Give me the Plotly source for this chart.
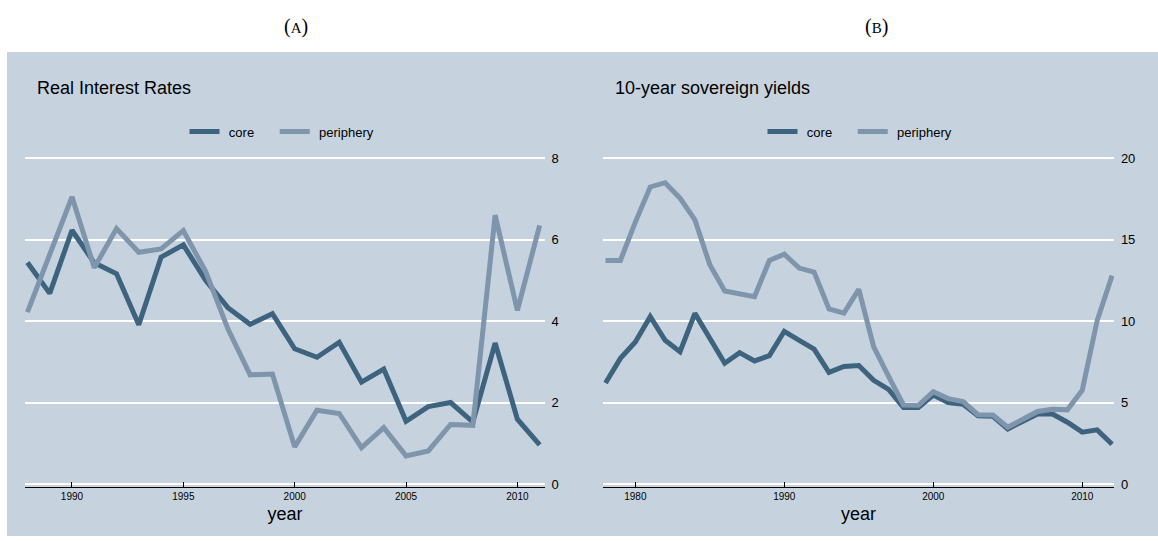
import plotly.graph_objects as go

# Panel A: real interest rates, 1988-2011
years_a = list(range(1988, 2012))
core_a = [5.44, 4.68, 6.23, 5.43, 5.16, 3.91, 5.57, 5.87, 5.00, 4.33, 3.92, 4.18,
          3.32, 3.11, 3.48, 2.50, 2.82, 1.54, 1.90, 2.00, 1.52, 3.46, 1.59, 0.96]
periph_a = [4.22, 5.60, 7.05, 5.31, 6.27, 5.69, 5.77, 6.22, 5.22, 3.81, 2.68, 2.70,
            0.91, 1.81, 1.73, 0.89, 1.38, 0.69, 0.81, 1.46, 1.44, 6.60, 4.26, 6.35]

# Panel B: 10-year sovereign yields, 1978-2012
years_b = list(range(1978, 2013))
core_b = [6.20, 7.71, 8.72, 10.27, 8.82, 8.12, 10.47, 8.98, 7.41, 8.06, 7.55, 7.88,
          9.37, 8.82, 8.28, 6.85, 7.21, 7.27, 6.36, 5.80, 4.69, 4.69, 5.46, 4.99,
          4.89, 4.19, 4.15, 3.38, 3.83, 4.29, 4.29, 3.79, 3.18, 3.32, 2.44]
periph_b = [13.72, 13.72, 16.07, 18.23, 18.49, 17.54, 16.21, 13.45, 11.84, 11.70,
            11.50, 13.72, 14.10, 13.25, 13.01, 10.74, 10.49, 11.94, 8.42, 6.60,
            4.85, 4.83, 5.66, 5.24, 5.06, 4.25, 4.23, 3.48, 3.99, 4.45, 4.59, 4.55,
            5.76, 10.03, 12.79]

ticks_a = [1990, 1995, 2000, 2005, 2010]
ticks_b = [1980, 1990, 2000, 2010]
yticks_a = [0, 2, 4, 6, 8]
yticks_b = [0, 5, 10, 15, 20]

W, H = 1158, 541
BG = "#c6d3df"
CORE = "#3d637e"
PERIPH = "#7e95ac"
FONT = "Liberation Sans, Arial, sans-serif"
SERIF = "Liberation Serif, Times New Roman, serif"

# legend labels: small leading gap after the key line, wider gap between entries
CORE_LABEL = "\u2004core\u2003\u2009"
PERIPH_LABEL = "\u2004periphery"


def px_x(p):
    return p / W


def px_y(p):
    return 1 - p / H


fig = go.Figure()

fig.add_trace(go.Scatter(x=years_a, y=core_a, name=CORE_LABEL, mode="lines",
                         line=dict(color=CORE, width=5), xaxis="x", yaxis="y",
                         legend="legend"))
fig.add_trace(go.Scatter(x=years_a, y=periph_a, name=PERIPH_LABEL, mode="lines",
                         line=dict(color=PERIPH, width=5), xaxis="x", yaxis="y",
                         legend="legend"))
fig.add_trace(go.Scatter(x=years_b, y=core_b, name=CORE_LABEL, mode="lines",
                         line=dict(color=CORE, width=5), xaxis="x2", yaxis="y2",
                         legend="legend2"))
fig.add_trace(go.Scatter(x=years_b, y=periph_b, name=PERIPH_LABEL, mode="lines",
                         line=dict(color=PERIPH, width=5), xaxis="x2", yaxis="y2",
                         legend="legend2"))

xcommon = dict(showgrid=False, zeroline=False, showline=True, linecolor="black",
               linewidth=1, ticks="inside", ticklen=5, tickcolor="black",
               tickwidth=1, tickfont=dict(family=FONT, size=10, color="black"),
               title=dict(text="year", font=dict(family=FONT, size=18, color="black"),
                          standoff=6),
               fixedrange=True)
ycommon = dict(side="right", showgrid=True, gridcolor="white", gridwidth=1.5,
               zeroline=False, showline=False, ticks="outside", ticklen=3,
               tickcolor="rgba(0,0,0,0)",
               tickfont=dict(family=FONT, size=13, color="black"), fixedrange=True)

# plot areas: top gridline at y=156px, axis line at y=491px
ydom = [px_y(491), px_y(154)]

legend_common = dict(orientation="h", yanchor="middle", xanchor="center",
                     bgcolor="rgba(0,0,0,0)",
                     font=dict(family=FONT, size=13, color="black"),
                     itemwidth=30)

fig.update_layout(
    width=W, height=H,
    margin=dict(l=0, r=0, t=0, b=0),
    paper_bgcolor="white",
    plot_bgcolor="rgba(0,0,0,0)",
    xaxis=dict(domain=[px_x(25), px_x(545)], range=[1987.89, 2011.24],
               tickvals=ticks_a, anchor="y", **xcommon),
    yaxis=dict(domain=ydom, range=[-0.073, 8.05], tickvals=yticks_a, anchor="x",
               **ycommon),
    xaxis2=dict(domain=[px_x(602.7), px_x(1114.3)], range=[1977.81, 2012.15],
                tickvals=ticks_b, anchor="y2", **xcommon),
    yaxis2=dict(domain=ydom, range=[-0.18, 20.12], tickvals=yticks_b, anchor="x2",
                **ycommon),
    legend=dict(x=px_x(282), y=px_y(129), **legend_common),
    legend2=dict(x=px_x(860), y=px_y(129), **legend_common),
    shapes=[dict(type="rect", xref="paper", yref="paper", x0=px_x(7), x1=1,
                 y0=0, y1=px_y(48), fillcolor=BG, line=dict(width=0),
                 layer="below")],
    annotations=[
        dict(text="Real Interest Rates", x=px_x(35), y=px_y(85), xref="paper",
             yref="paper", xanchor="left", yanchor="middle", showarrow=False,
             font=dict(family=FONT, size=18, color="black")),
        dict(text="10-year sovereign yields", x=px_x(613), y=px_y(85),
             xref="paper", yref="paper", xanchor="left", yanchor="middle",
             showarrow=False, font=dict(family=FONT, size=18, color="black")),
        dict(text="(<span style='font-size:15px'>A</span>)", x=px_x(296),
             y=px_y(22), xref="paper", yref="paper", xanchor="center",
             yanchor="middle", showarrow=False,
             font=dict(family=SERIF, size=20, color="black")),
        dict(text="(<span style='font-size:15px'>B</span>)", x=px_x(876),
             y=px_y(22), xref="paper", yref="paper", xanchor="center",
             yanchor="middle", showarrow=False,
             font=dict(family=SERIF, size=20, color="black")),
    ],
)

fig.write_html("out.html",
               post_script="document.body.style.margin='0';"
                           "document.body.style.overflow='hidden';")
